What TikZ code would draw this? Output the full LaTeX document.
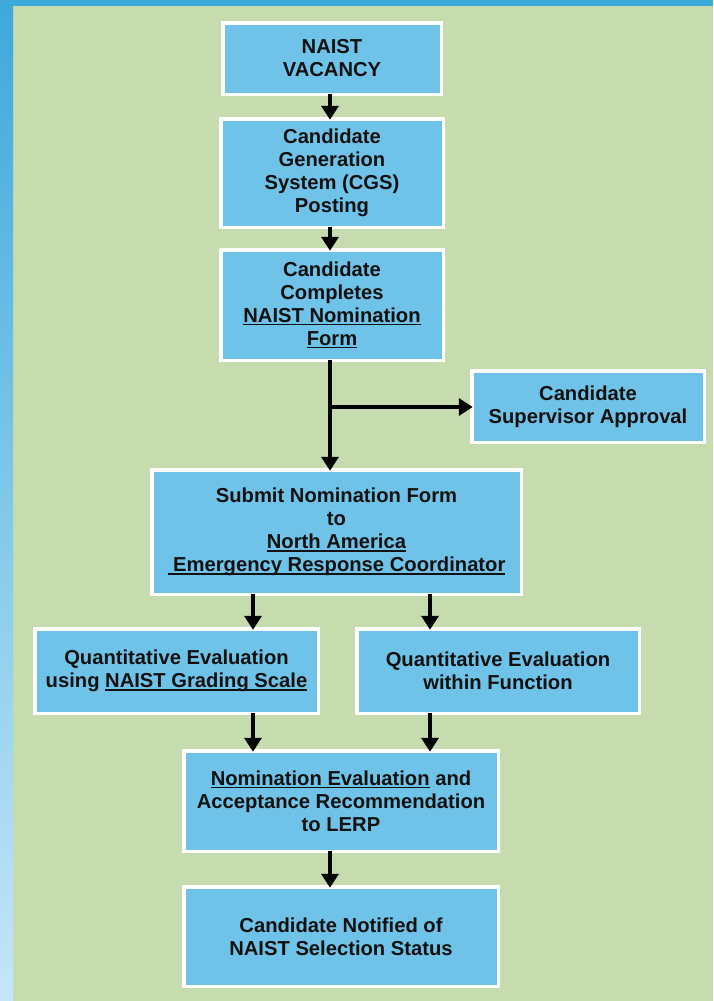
\documentclass[tikz,border=0pt]{standalone}
\usepackage{fontspec}
\setmainfont{Liberation Sans}
\usetikzlibrary{arrows.meta}
\definecolor{panelgreen}{HTML}{C6DCAF}
\definecolor{boxblue}{HTML}{6FC3E8}
\definecolor{stripdark}{HTML}{3DA9DA}
\definecolor{striplight}{HTML}{C4E6FA}
\definecolor{ink}{HTML}{111111}
\newcommand{\myul}[1]{\leavevmode\setbox0\hbox{#1}\rlap{\rule[-3.2pt]{\wd0}{1.6pt}}\box0\relax}
\tikzset{
  stepbox/.style={draw=white, line width=3.5pt, fill=boxblue, text=ink,
    align=center, inner sep=0pt, outer sep=0pt,
    font=\bfseries\fontsize{20.2}{23}\selectfont},
  flow/.style={draw=black, line width=4.5pt,
    -{Triangle[length=14pt,width=17pt]}, shorten >=-1pt},
}
\begin{document}
\begin{tikzpicture}[x=1pt,y=-1pt]
\useasboundingbox (0,0) rectangle (713,1001);
% background
\fill[panelgreen] (0,0) rectangle (713,1001);
\shade[top color=stripdark, bottom color=striplight] (0,0) rectangle (13,1001);
\fill[stripdark] (0,0) rectangle (713,6);
% boxes
\node[stepbox, minimum width=218.5pt, minimum height=71.5pt] (vac) at (332,58.5) {NAIST\\VACANCY};
\node[stepbox, minimum width=222.5pt, minimum height=108.5pt] (cgs) at (332,173) {Candidate\\Generation\\System (CGS)\\Posting};
\node[stepbox, minimum width=222.5pt, minimum height=110.5pt] (comp) at (332,305) {Candidate\\Completes\\\myul{NAIST Nomination}\\\myul{Form}};
\node[stepbox, minimum width=232.5pt, minimum height=71.5pt] (sup) at (588,406.5) {Candidate\\Supervisor Approval};
\node[stepbox, minimum width=369.5pt, minimum height=124.5pt] (sub) at (336.5,532) {Submit Nomination Form\\to\\\myul{North America}\\\myul{~Emergency Response Coordinator}};
\node[stepbox, minimum width=283.5pt, minimum height=84.5pt] (ql) at (176.5,671) {Quantitative Evaluation\\using \myul{NAIST Grading Scale}};
\node[stepbox, minimum width=282.5pt, minimum height=84.5pt] (qr) at (498,671) {Quantitative Evaluation\\within Function};
\node[stepbox, minimum width=314.5pt, minimum height=100.5pt] (nom) at (341,801) {\myul{Nomination Evaluation} and\\Acceptance Recommendation\\to LERP};
\node[stepbox, minimum width=314.5pt, minimum height=99.5pt] (notif) at (341,936.5) {Candidate Notified of\\NAIST Selection Status};
% connectors
\draw[flow] (vac.south -| 330,0) -- (cgs.north -| 330,0);
\draw[flow] (cgs.south -| 330,0) -- (comp.north -| 330,0);
\coordinate (branch) at (330,407);
\draw[flow] (comp.south -| 330,0) -- (sub.north -| 330,0);
\draw[flow] (branch) -- (sup.west |- branch);
\draw[flow] (sub.south -| 253,0) -- (ql.north -| 253,0);
\draw[flow] (sub.south -| 430,0) -- (qr.north -| 430,0);
\draw[flow] (ql.south -| 253,0) -- (nom.north -| 253,0);
\draw[flow] (qr.south -| 430,0) -- (nom.north -| 430,0);
\draw[flow] (nom.south -| 330,0) -- (notif.north -| 330,0);
\end{tikzpicture}
\end{document}
